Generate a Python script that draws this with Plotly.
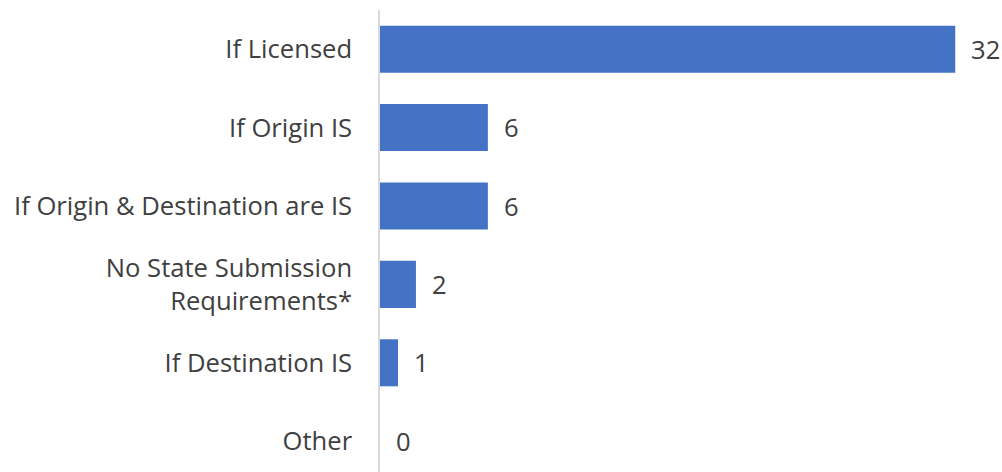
import plotly.graph_objects as go

categories = ["If Licensed", "If Origin IS", "If Origin & Destination are IS",
              "No State Submission<br>Requirements*", "If Destination IS", "Other"]
values = [32, 6, 6, 2, 1, 0]

BAR_COLOR = "#4472C4"
TEXT_COLOR = "#404040"
FONT = "Open Sans"
FS = 25.6

fig = go.Figure()
fig.add_trace(go.Bar(
    x=values, y=categories, orientation="h",
    marker=dict(color=BAR_COLOR, line=dict(width=0)),
    width=0.6, hoverinfo="skip",
))

for c, v in zip(categories, values):
    fig.add_annotation(x=v, y=c, text=str(v), showarrow=False,
                       xanchor="left", yanchor="middle", xshift=14,
                       font=dict(family=FONT, size=FS, color=TEXT_COLOR))

fig.update_layout(
    width=1002, height=472,
    margin=dict(l=380, r=0, t=10, b=0, autoexpand=False),
    paper_bgcolor="white", plot_bgcolor="white",
    showlegend=False,
    font=dict(family=FONT, size=FS, color=TEXT_COLOR),
    xaxis=dict(range=[0, 34.6], visible=False, fixedrange=True, automargin=False),
    yaxis=dict(
        categoryorder="array", categoryarray=categories,
        range=[5.393, -0.5], automargin=False, fixedrange=True,
        showline=True, linecolor="#D9D9D9", linewidth=1.5,
        showgrid=False, zeroline=False, ticks="",
        ticklabelstandoff=21,
        tickfont=dict(family=FONT, size=FS, color=TEXT_COLOR),
    ),
)

fig.write_html(
    "out.html",
    config={"displayModeBar": False},
    post_script="document.body.style.margin='0';document.body.style.overflow='hidden';",
)
